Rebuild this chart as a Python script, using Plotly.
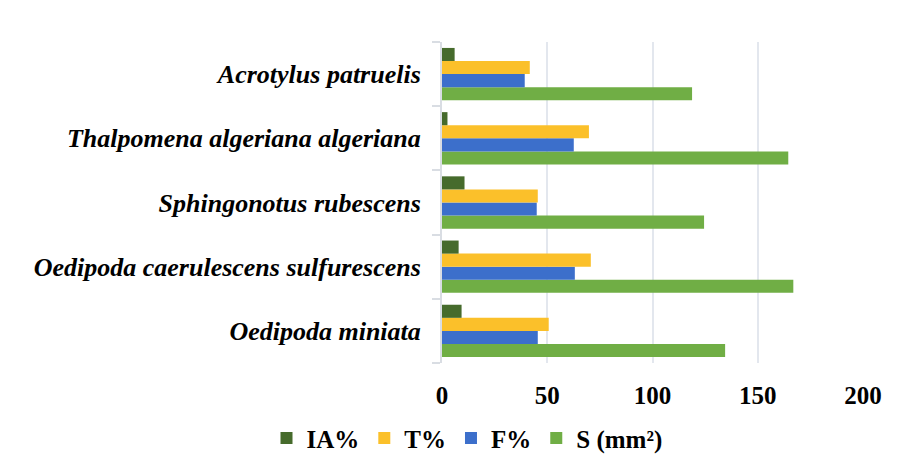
import plotly.graph_objects as go

categories = ["Oedipoda miniata", "Oedipoda caerulescens sulfurescens",
              "Sphingonotus rubescens", "Thalpomena algeriana algeriana",
              "Acrotylus patruelis"]
ia = [9.3, 7.9, 10.7, 2.6, 6.0]
t = [50.7, 70.7, 45.5, 69.8, 41.7]
f = [45.5, 63.1, 45.0, 62.6, 39.3]
s = [134.5, 166.9, 124.5, 164.5, 118.8]
series_names = ["IA%", "T%", "F%", "S (mm²)"]
colors = ["#466b2c", "#fbc02a", "#3c6fcb", "#70ae45"]
x_ticks = [0, 50, 100, 150, 200]

FONT = "Liberation Serif"
OFF = 8  # page body margin
W, H = 903 - OFF, 473 - OFF
ml, mr, mt, mb = 434, 40, 34, 107
pw, ph = W - ml - mr, H - mt - mb

fig = go.Figure()
data = [ia, t, f, s]
for name, vals, col in reversed(list(zip(series_names, data, colors))):
    fig.add_trace(go.Bar(y=categories, x=vals, name=name, orientation="h",
                         marker=dict(color=col, line=dict(width=0))))

fig.update_layout(
    width=W, height=H,
    margin=dict(l=ml, r=mr, t=mt, b=mb),
    plot_bgcolor="white",
    barmode="group", bargap=0.185, bargroupgap=0,
    legend=dict(orientation="h", traceorder="reversed",
                x=(266.5 - OFF - ml) / pw, xanchor="left",
                y=(H - mb - (442 - OFF)) / ph, yanchor="middle",
                font=dict(family=FONT, size=25, weight="bold",
                          color="black")),
    xaxis=dict(range=[0, 200], tickvals=x_ticks, showgrid=True,
               gridcolor="#e3e7ee", gridwidth=2, zeroline=False,
               showline=False, ticks="outside", ticklen=10,
               tickcolor="rgba(0,0,0,0)",
               tickfont=dict(family=FONT, size=25, weight="bold",
                             color="black")),
    yaxis=dict(categoryorder="array", categoryarray=categories,
               showline=True, linecolor="#d9dde3", linewidth=2,
               ticks="outside", tickson="boundaries", ticklen=8,
               tickcolor="#d9dde3", tickwidth=2, ticklabelstandoff=14,
               showgrid=False,
               tickfont=dict(family=FONT, size=26, color="black",
                             weight="bold", style="italic")),
)

fig.write_html("out.html")
